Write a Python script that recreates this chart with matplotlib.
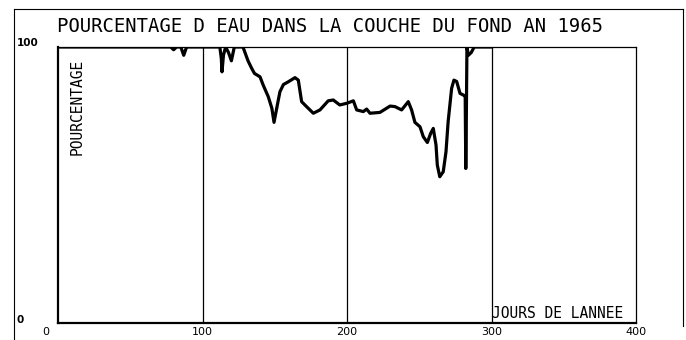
import numpy as np
import matplotlib
matplotlib.use("Agg")
import matplotlib.pyplot as plt
from matplotlib.lines import Line2D
from matplotlib.transforms import ScaledTranslation

# water percentage in the bottom layer, 1965 (day of year, percent)
jours = [1, 78, 80, 82, 85, 87, 89, 112, 113, 113.5, 114.5, 116, 118, 120, 122,
         128, 131.5, 134, 136, 139.8, 142, 145.5, 148, 149.5, 151.8, 153.6, 156,
         159.4, 164, 166.3, 168.6, 172, 176.7, 181.3, 187, 190.5, 195, 199.8,
         204.4, 206.7, 211.3, 213.6, 215.9, 222.8, 229.8, 233.2, 237.8, 242.4,
         244.7, 247, 250.5, 252.8, 255.6, 257.9, 259.7, 261.6, 262.5, 264.2,
         266.6, 268.5, 270, 272.4, 274, 275.9, 278.2, 280.5, 281.8, 282.2, 282.6,
         283, 284, 286, 288, 300]
eau = [100, 100, 99, 100, 100, 97, 100, 100, 96, 91, 97, 100, 98, 95, 100,
       100, 95, 92.3, 90.4, 89.2, 86.2, 82, 77.8, 72.7, 79, 83.8, 86.4,
       87.4, 88.9, 88, 80.2, 78.4, 76, 77.2, 80.5, 80.8, 79, 79.6,
       80.5, 77.2, 76.6, 77.5, 76, 76.3, 78.6, 78.4, 77.2, 80.2,
       77.2, 72.7, 71.1, 67.5, 65.4, 68.7, 70.5, 64.5, 57.2, 53,
       54.8, 62, 73, 85, 88, 87.5, 83.2, 82.6, 82, 56, 75,
       100, 97, 98, 100, 100]

xticks = [0, 100, 200, 300, 400]
yticks = [0, 100]
titre = "POURCENTAGE D EAU DANS LA COUCHE DU FOND AN 1965"

W, H = 686, 340
fig = plt.figure(figsize=(W / 100, H / 100), dpi=100)
ax = fig.add_axes([58 / W, 1 - 323 / H, 578 / W, 276 / H])
ax.set_xlim(0, 400)
ax.set_ylim(0, 100)

for s in ["left", "bottom"]:
    ax.spines[s].set_linewidth(1.6)
for s in ["top", "right"]:
    ax.spines[s].set_linewidth(0.9)

for x in xticks[1:-1]:
    ax.axvline(x, color="black", lw=0.9)

ax.plot(jours, eau, color="black", lw=2.3, solid_joinstyle="round")

ax.set_xticks(xticks)
ax.set_xticklabels([str(t) for t in xticks], fontsize=8, family="DejaVu Sans")
ax.tick_params(axis="x", length=0, pad=3)
lab0 = ax.get_xticklabels()[0]
lab0.set_transform(lab0.get_transform() + ScaledTranslation(-0.12, 0, fig.dpi_scale_trans))
ax.set_yticks([])
for t in yticks:
    ax.text(-0.072, t + (1.5 if t == 100 else 1), str(t), transform=ax.get_yaxis_transform(),
            ha="left", va="center", fontsize=7.5, fontweight="bold", clip_on=False)

mono = "DejaVu Sans Mono"
ax.text(13.5, 78.3, "POURCENTAGE", rotation=90, ha="center", va="center",
        family=mono, fontsize=10.5)
ax.text(300.5, 1.8, "JOURS DE LANNEE", ha="left", va="baseline", family=mono, fontsize=10.5)

fig.text(57 / W, 1 - 32 / H, titre, ha="left", va="baseline", family=mono, fontsize=13.6)

# outer frame
fr = dict(color="black", lw=0.8, transform=fig.transFigure)
fig.add_artist(Line2D([13.5 / W, 13.5 / W], [0, 1 - 9 / H], **fr))
fig.add_artist(Line2D([13.5 / W, 683 / W], [1 - 9 / H, 1 - 9 / H], **fr))
fig.add_artist(Line2D([683 / W, 683 / W], [1 - 9 / H, 1 - 326 / H], **fr))

fig.savefig("out.png", dpi=100)
